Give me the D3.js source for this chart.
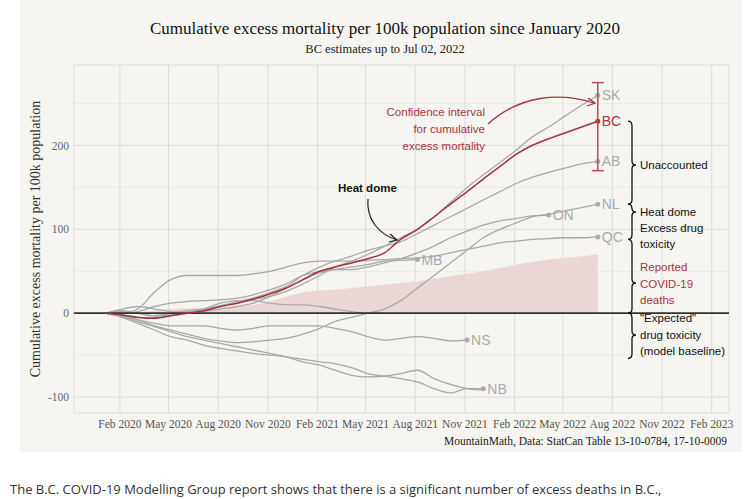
<!DOCTYPE html>
<html><head><meta charset="utf-8">
<script src="https://cdn.jsdelivr.net/npm/d3@7.9.0/dist/d3.min.js"></script>
<style>body{margin:0;background:#fff}svg{display:block}</style>
</head><body><svg id="c" width="751" height="499"></svg>
<script>
// monthly cumulative excess mortality per 100k, starting Jan 2020
const provinces = ['SK', 'BC', 'AB', 'NL', 'ON', 'QC', 'MB', 'NS', 'NB', 'PE', 'XX'];
const series = {
  SK: [0,3,0,-3,0,3,5,8,12,16,20,26,35,45,55,62,70,80,90,100,115,132,150,165,180,195,210,222,235,248,260],
  BC: [0,-2,-5,-6,-3,0,3,8,12,17,23,30,40,50,55,60,65,72,88,100,115,130,145,160,175,190,200,208,215,222,229],
  AB: [0,2,0,-3,-2,2,5,9,14,18,25,32,45,55,62,68,75,80,85,95,105,115,125,135,145,155,162,168,173,178,181],
  NL: [0,-3,-8,-15,-20,-25,-30,-33,-35,-34,-32,-30,-25,-18,-10,-5,0,5,15,30,45,60,75,90,100,108,115,118,122,126,130],
  ON: [0,0,2,8,12,14,15,16,18,22,28,35,45,50,52,52,55,60,65,72,80,90,98,105,110,113,116,117],
  QC: [0,0,5,25,40,45,45,45,45,47,50,55,60,62,62,62,63,64,65,66,68,72,76,80,84,86,88,89,90,90,91],
  MB: [0,-2,-5,-5,-3,0,2,5,8,12,20,30,40,48,52,55,58,62,63,64],
  NS: [0,-3,-8,-12,-15,-15,-15,-18,-20,-18,-15,-15,-15,-15,-18,-22,-28,-32,-30,-28,-30,-33,-32],
  NB: [0,-5,-12,-20,-28,-32,-38,-42,-45,-48,-50,-52,-55,-58,-60,-65,-72,-75,-78,-82,-90,-95,-90,-90],
  PE: [0,5,8,5,2,0,5,12,15,15,12,10,10,8,5,2,0,0],
  XX: [0,-4,-10,-16,-22,-28,-32,-36,-40,-44,-48,-52,-58,-62,-68,-74,-76,-75,-72,-68,-78,-85,-90,-92]
};
const labelled = ['SK', 'BC', 'AB', 'NL', 'ON', 'QC', 'MB', 'NS', 'NB'];
const covidDeaths = [0,0,1,3,5,6,6,7,8,10,14,20,25,27,28,30,32,34,36,38,41,44,47,50,54,58,61,64,66,68,70];
const ciLow = 170, ciHigh = 275;
const xTicks = ['2020-02','2020-05','2020-08','2020-11','2021-02','2021-05','2021-08','2021-11','2022-02','2022-05','2022-08','2022-11','2023-02'];
const yTicks = [-100, 0, 100, 200];

const svg = d3.select('#c');
const serif = "'Liberation Serif', serif", sans = "'Liberation Sans', Arial, sans-serif";
svg.append('rect').attr('x', 20).attr('y', 0).attr('width', 722).attr('height', 452).attr('fill', '#f6f5f1');

const month = (i) => new Date(2020, i, 5);
const x = d3.scaleTime().domain([new Date(2019, 10, 8), new Date(2023, 2, 5)]).range([74, 729]);
const y = d3.scaleLinear().domain([-119, 296]).range([413, 65]);

// grid
const g = svg.append('g');
const parse = d3.timeParse('%Y-%m');
xTicks.forEach((t) => {
  const d = parse(t);
  g.append('line').attr('x1', x(d)).attr('x2', x(d)).attr('y1', 65).attr('y2', 413).attr('stroke', '#dcdcdc');
});
d3.range(-150, 300, 50).forEach((v) => {
  if (y(v) < 65 || y(v) > 413) return;
  g.append('line').attr('x1', 74).attr('x2', 729).attr('y1', y(v)).attr('y2', y(v))
    .attr('stroke', '#dcdcdc').attr('stroke-width', v % 100 === 0 ? 1 : 0.5);
});
g.append('rect').attr('x', 74).attr('y', 65).attr('width', 655).attr('height', 348).attr('fill', 'none').attr('stroke', '#ddd');

// axes text
xTicks.forEach((t) => {
  const d = parse(t);
  svg.append('text').attr('x', x(d)).attr('y', 428).attr('text-anchor', 'middle')
    .attr('font-family', serif).attr('font-size', 11.5).attr('fill', '#555')
    .text(d3.timeFormat('%b %Y')(d));
});
yTicks.forEach((v) => {
  svg.append('text').attr('x', 69).attr('y', y(v) + 4).attr('text-anchor', 'end')
    .attr('font-family', serif).attr('font-size', 11.5).attr('fill', '#666').text(v);
});
svg.append('text').attr('transform', 'translate(40,239) rotate(-90)').attr('text-anchor', 'middle')
  .attr('font-family', serif).attr('font-size', 14).attr('fill', '#333')
  .text('Cumulative excess mortality per 100k population');

// covid area
svg.append('path').datum(covidDeaths)
  .attr('d', d3.area().x((d, i) => x(month(i))).y0(y(0)).y1((d) => y(d)))
  .attr('fill', '#ebd6d6');

// lines
const line = d3.line().x((d, i) => x(month(i))).y((d) => y(d)).curve(d3.curveMonotoneX);
provinces.filter((p) => p !== 'BC').forEach((p) => {
  svg.append('path').datum(series[p]).attr('d', line).attr('fill', 'none').attr('stroke', '#a9a9a9').attr('stroke-width', 1.3);
});
svg.append('line').attr('x1', 74).attr('x2', 729).attr('y1', y(0)).attr('y2', y(0)).attr('stroke', '#333').attr('stroke-width', 1.8);
svg.append('path').datum(series.BC).attr('d', line).attr('fill', 'none').attr('stroke', '#a8323c').attr('stroke-width', 1.5);

// end points and labels
labelled.forEach((p) => {
  const s = series[p], i = s.length - 1, bc = p === 'BC';
  const col = bc ? '#b0303a' : '#aaa';
  svg.append('circle').attr('cx', x(month(i))).attr('cy', y(s[i])).attr('r', 2.5).attr('fill', col);
  svg.append('text').attr('x', x(month(i)) + 4).attr('y', y(s[i]) + 5)
    .attr('font-family', sans).attr('font-size', 14).attr('fill', col).text(p);
});

// confidence interval
const xe = x(month(30));
svg.append('line').attr('x1', xe).attr('x2', xe).attr('y1', y(ciLow)).attr('y2', y(ciHigh)).attr('stroke', '#b84a55').attr('stroke-width', 1.5);
[ciLow, ciHigh].forEach((v) => svg.append('line').attr('x1', xe - 6).attr('x2', xe + 6).attr('y1', y(v)).attr('y2', y(v)).attr('stroke', '#b84a55').attr('stroke-width', 1.5));

// annotations
const ann = (tx, ty, txt, col, anchor, weight) => svg.append('text').attr('x', tx).attr('y', ty)
  .attr('font-family', sans).attr('font-size', 11.5).attr('fill', col).attr('text-anchor', anchor || 'start')
  .attr('font-weight', weight || 'normal').text(txt);
['Confidence interval', 'for cumulative', 'excess mortality'].forEach((t, i) => ann(485, 116 + i * 17, t, '#a8323c', 'end'));
svg.append('path').attr('d', 'M488,124 C520,95 560,92 594,103').attr('fill', 'none').attr('stroke', '#a8323c').attr('stroke-width', 1.3);
svg.append('path').attr('d', 'M588,98 L595,103 L587,106').attr('fill', 'none').attr('stroke', '#a8323c').attr('stroke-width', 1.3);
ann(338, 192, 'Heat dome', '#111', 'start', 'bold');
svg.append('path').attr('d', 'M368,199 C366,220 380,235 397,240').attr('fill', 'none').attr('stroke', '#222').attr('stroke-width', 1.2);
svg.append('path').attr('d', 'M390,234 L397,240 L389,242').attr('fill', 'none').attr('stroke', '#222').attr('stroke-width', 1.2);

// braces
const brace = (y1, y2, tip) => {
  const bx = 632, w = 4;
  svg.append('path').attr('d', `M${bx - w},${y1} Q${bx},${y1} ${bx},${y1 + 5} L${bx},${tip - 4} Q${bx},${tip} ${bx + w},${tip} Q${bx},${tip} ${bx},${tip + 4} L${bx},${y2 - 5} Q${bx},${y2} ${bx - w},${y2}`)
    .attr('fill', 'none').attr('stroke', '#111').attr('stroke-width', 1.3);
};
brace(y(229), y(130), 165);
brace(y(130), y(88), 212);
brace(y(88), y(0), 283);
brace(y(0), y(-54), 335);
ann(640, 169, 'Unaccounted', '#111');
['Heat dome', 'Excess drug', 'toxicity'].forEach((t, i) => ann(640, 216 + i * 16, t, '#111'));
['Reported', 'COVID-19', 'deaths'].forEach((t, i) => ann(640, 271 + i * 16.5, t, '#a8323c'));
['"Expected"', 'drug toxicity', '(model baseline)'].forEach((t, i) => ann(640, 322 + i * 16.5, t, '#111'));

// titles
svg.append('text').attr('x', 385).attr('y', 34).attr('text-anchor', 'middle').attr('font-family', serif)
  .attr('font-size', 17).attr('fill', '#111').text('Cumulative excess mortality per 100k population since January 2020');
svg.append('text').attr('x', 385).attr('y', 53).attr('text-anchor', 'middle').attr('font-family', serif)
  .attr('font-size', 12.5).attr('fill', '#222').text('BC estimates up to Jul 02, 2022');
svg.append('text').attr('x', 727).attr('y', 445).attr('text-anchor', 'end').attr('font-family', serif)
  .attr('font-size', 11.5).attr('fill', '#222').text('MountainMath, Data: StatCan Table 13-10-0784, 17-10-0009');
svg.append('text').attr('x', 10).attr('y', 494).attr('font-family', 'Open Sans, sans-serif')
  .attr('font-size', 13).attr('fill', '#333').text('The B.C. COVID-19 Modelling Group report shows that there is a significant number of excess deaths in B.C.,');
</script></body></html>
